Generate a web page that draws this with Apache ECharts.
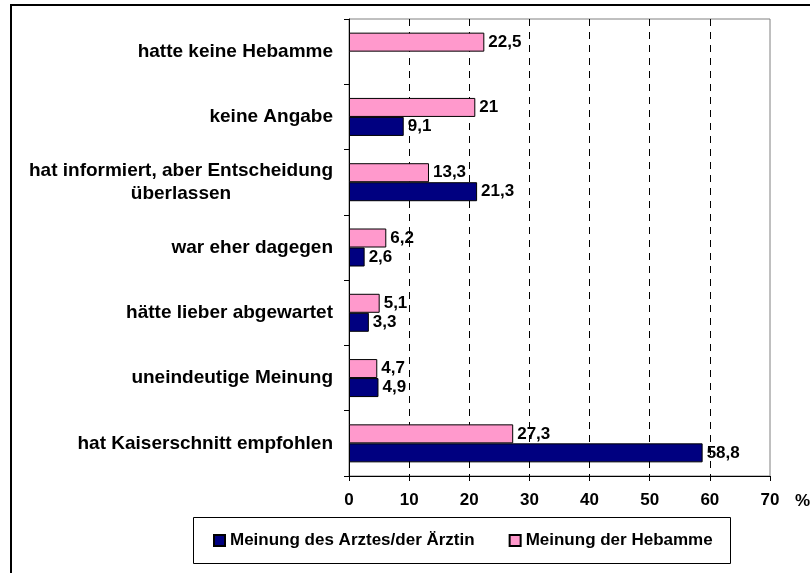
<!DOCTYPE html>
<html>
<head>
<meta charset="utf-8">
<script src="https://cdn.jsdelivr.net/npm/echarts@6/dist/echarts.min.js"></script>
<style>
html,body{margin:0;padding:0;background:#fff;}
#chart{width:810px;height:573px;}
</style>
</head>
<body>
<div id="chart"></div>
<script>
const categories = [
  'hatte keine Hebamme',
  'keine Angabe',
  'hat informiert, aber Entscheidung\nüberlassen',
  'war eher dagegen',
  'hätte lieber abgewartet',
  'uneindeutige Meinung',
  'hat Kaiserschnitt empfohlen'
];
const seriesNames = ['Meinung des Arztes/der Ärztin', 'Meinung der Hebamme'];
const arztValues = [null, 9.1, 21.3, 2.6, 3.3, 4.9, 58.8];
const hebammeValues = [22.5, 21, 13.3, 6.2, 5.1, 4.7, 27.3];
const xTicks = [0, 10, 20, 30, 40, 50, 60, 70];

const FONT = 'Liberation Sans, Arial, sans-serif';
const chart = echarts.init(document.getElementById('chart'), null, {renderer: 'canvas'});

const labelFmt = p => (p.value == null ? '' : String(p.value).replace('.', ','));

chart.setOption({
  animation: false,
  backgroundColor: '#fff',
  grid: {
    left: 349, right: 40, top: 19, bottom: 97,
    show: true, borderColor: '#808080', borderWidth: 1,
    outerBoundsMode: 'none', containLabel: false
  },
  legend: {
    data: seriesNames,
    left: 213, top: 532, padding: 0,
    itemWidth: 11, itemHeight: 11, itemGap: 34,
    icon: 'rect',
    textStyle: {fontFamily: FONT, fontWeight: 'bold', fontSize: 17, color: '#000'}
  },
  xAxis: {
    type: 'value',
    min: xTicks[0], max: xTicks[xTicks.length - 1], interval: 10,
    axisLine: {show: true, lineStyle: {color: '#000', width: 1}},
    axisTick: {show: true, length: 5, inside: false, lineStyle: {color: '#000'}},
    axisLabel: {margin: 16, fontFamily: FONT, fontWeight: 'bold', fontSize: 17, color: '#000'},
    splitLine: {show: true, showMinLine: false, showMaxLine: false,
      lineStyle: {color: '#000', type: [7, 6], width: 1}}
  },
  yAxis: {
    type: 'category',
    data: categories,
    inverse: true,
    axisLine: {show: true, lineStyle: {color: '#000', width: 1}},
    axisTick: {show: true, length: 5, lineStyle: {color: '#000'}},
    axisLabel: {
      margin: 16, fontFamily: FONT, fontWeight: 'bold', fontSize: 19, color: '#000',
      align: 'right',
      formatter: v => v.indexOf('\n') >= 0 ? v.split('\n').map(s => '{c|' + s + '}').join('\n') : v,
      rich: {c: {width: 304, align: 'center', fontFamily: FONT, fontWeight: 'bold', fontSize: 19, color: '#000', lineHeight: 23}}
    },
    splitLine: {show: false}
  },
  series: [
    {
      name: seriesNames[1], type: 'bar', data: hebammeValues,
      barWidth: 19, barGap: '0%',
      itemStyle: {color: '#FF99CC', borderColor: '#000', borderWidth: 1},
      label: {show: true, position: 'right', distance: 4, formatter: labelFmt,
        fontFamily: FONT, fontWeight: 'bold', fontSize: 17, color: '#000'}
    },
    {
      name: seriesNames[0], type: 'bar', data: arztValues,
      barWidth: 19, barGap: '0%',
      itemStyle: {color: '#000080', borderColor: '#000', borderWidth: 1},
      label: {show: true, position: 'right', distance: 4, formatter: labelFmt,
        fontFamily: FONT, fontWeight: 'bold', fontSize: 17, color: '#000'}
    }
  ],
  graphic: [
    {type: 'rect', shape: {x: 11, y: 5, width: 900, height: 700}, style: {fill: null, stroke: '#000', lineWidth: 2}, silent: true},
    {type: 'rect', shape: {x: 193.5, y: 517.5, width: 537, height: 46}, style: {fill: null, stroke: '#000', lineWidth: 1}, silent: true},
    {type: 'text', x: 795, y: 501, style: {text: '%', fontFamily: FONT, fontWeight: 'bold', fontSize: 17, fill: '#000', verticalAlign: 'middle'}}
  ]
});
</script>
</body>
</html>
